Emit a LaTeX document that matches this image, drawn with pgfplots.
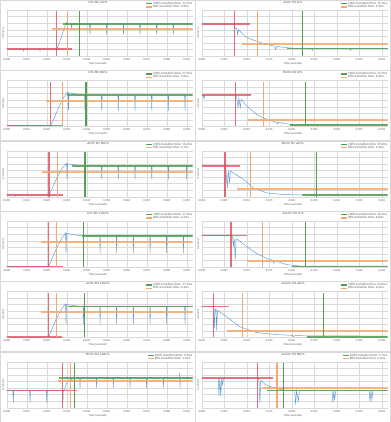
\documentclass[border=0pt]{standalone}
\usepackage{fontspec}
\setmainfont{Carlito}
\usepackage{pgfplots}
\pgfplotsset{compat=1.18}
\definecolor{blu}{RGB}{91,155,213}
\definecolor{rd}{RGB}{228,72,88}
\definecolor{org}{RGB}{244,170,110}
\definecolor{grn}{RGB}{84,158,84}
\definecolor{gridgray}{RGB}{217,217,217}
\definecolor{textgray}{RGB}{89,89,89}
\pgfplotsset{
  pnl/.style={scale only axis, width=372pt, height=92pt, anchor=south west,
    ymin=0, ymax=7, ytick={0,1,2,3,4,5,6,7}, yticklabels={},
    scaled x ticks=false, scaled y ticks=false,
    xmajorgrids, ymajorgrids, grid style={line width=0.4pt, draw=gridgray},
    axis line style={draw=none}, major tick length=0pt, tick style={draw=none},
    xticklabel style={font=\fontsize{5.8}{6.5}\selectfont, text=textgray, anchor=center, yshift=-7pt},
    xlabel={Time (seconds)}, ylabel={Luminance},
    xlabel style={font=\fontsize{6}{7}\selectfont, text=textgray, at={(axis description cs:0.49,0)}, anchor=center, yshift=-15pt},
    ylabel style={font=\fontsize{5}{6}\selectfont, text=textgray, at={(axis description cs:-0.02,0.5)}, anchor=center},
    title style={font=\fontsize{9}{10}\selectfont, text=textgray, at={(axis description cs:0.49,1)}, anchor=center, yshift=10pt},
    legend style={at={(axis description cs:1.0,1)}, anchor=south east, yshift=2pt, draw=none, fill=none,
      font=\fontsize{6.5}{7}\selectfont, text=textgray, row sep=-1.5pt, inner sep=0pt, nodes={inner sep=1pt}},
    legend cell align=left,
    legend image code/.code={\draw[#1] (0pt,0pt) -- (12pt,0pt);},
  },
  leftp/.style={xmin=0, xmax=0.093, xtick={0,0.01,0.02,0.03,0.04,0.05,0.06,0.07,0.08,0.09},
    xticklabels={0.000,0.010,0.020,0.030,0.040,0.050,0.060,0.070,0.080,0.090}},
  rightp/.style={xmin=0, xmax=0.04133, xtick={0,0.005,0.01,0.015,0.02,0.025,0.03,0.035,0.04},
    xticklabels={0.000,0.005,0.010,0.015,0.020,0.025,0.030,0.035,0.040}},
  blueline/.style={blu, line width=0.9pt, mark=none, forget plot},
  redv/.style={rd, opacity=0.8, line width=2.6pt, mark=none, forget plot},
  redh/.style={rd, opacity=0.75, line width=3.2pt, mark=none, forget plot},
  orv/.style={org, line width=2.6pt, mark=none, forget plot},
  orh/.style={org, opacity=0.85, line width=4pt, mark=none, forget plot},
  grv/.style={grn, line width=2.6pt, mark=none, forget plot},
  grh/.style={grn, opacity=0.85, line width=3.4pt, mark=none, forget plot},
}
\newcommand{\legs}[2]{%
  \addlegendimage{grn, line width=2.5pt}\addlegendentry{100\% transition time: #1}
  \addlegendimage{org, line width=2.5pt}\addlegendentry{80\% transition time: #2}}
\begin{document}
\begin{tikzpicture}
\useasboundingbox (0pt,0pt) rectangle (780pt,-844pt);
% ---------- Row 1 ----------
\begin{axis}[pnl, leftp, at={(13.4pt,-112pt)}, title={0\% to 20\%}]
\legs{11.5ms}{5.8ms}
\addplot[blueline] coordinates {(0,1.1)(0.00816,1.1)(0.00837,0.8)(0.00858,1.1)(0.01643,1.1)(0.01664,0.8)(0.01684,1.1)(0.0248,1.1)(0.02501,0.85)(0.02532,1.2)(0.02738,2.9)(0.02893,4.4)(0.02976,5.0)(0.03017,5.2)(0.03079,4.95)(0.03224,4.85)(0.03245,4.2)(0.03265,4.85)(0.04144,4.85)(0.04164,3.3)(0.04185,4.85)(0.04981,4.85)(0.05001,3.3)(0.05022,4.85)(0.05818,4.85)(0.05838,3.3)(0.05859,4.85)(0.06644,4.85)(0.06665,3.3)(0.06686,4.85)(0.07481,4.85)(0.07502,3.3)(0.07523,4.85)(0.08308,4.85)(0.08329,3.3)(0.08349,4.85)(0.093,4.85)};
\addplot[redv] coordinates {(0.02501,0)(0.02501,6.8)};
\addplot[redh] coordinates {(0,1.1)(0.03255,1.1)};
\addplot[orv] coordinates {(0.03048,0)(0.03048,6.8)};
\addplot[orh] coordinates {(0.02253,4.1)(0.093,4.1)};
\addplot[grv] coordinates {(0.03637,0)(0.03637,6.8)};
\addplot[grh] coordinates {(0.02831,4.85)(0.093,4.85)};
\end{axis}
\begin{axis}[pnl, rightp, at={(403.4pt,-112pt)}, title={20\% to 0\%}]
\legs{15.1ms}{5.2ms}
\addplot[blueline] coordinates {(0,4.85)(0.00723,4.85)(0.00744,4.25)(0.00775,4.2)(0.00796,3.3)(0.00816,4.0)(0.00961,3.0)(0.01116,2.5)(0.01261,2.15)(0.01447,1.75)(0.01622,1.5)(0.01643,1.0)(0.01664,1.45)(0.01922,1.25)(0.02118,1.15)(0.02439,1.15)(0.02459,0.85)(0.0248,1.15)(0.03286,1.15)(0.03307,0.85)(0.03327,1.15)(0.04133,1.15)};
\addplot[redv] coordinates {(0.00726,0)(0.00726,6.8)};
\addplot[redh] coordinates {(0,4.85)(0.01075,4.85)};
\addplot[orv] coordinates {(0.01244,0)(0.01244,6.8)};
\addplot[orh] coordinates {(0.00889,1.85)(0.04133,1.85)};
\addplot[grv] coordinates {(0.02242,0)(0.02242,6.8)};
\addplot[grh] coordinates {(0.01891,1.15)(0.04133,1.15)};
\end{axis}
% ---------- Row 2 ----------
\begin{axis}[pnl, leftp, at={(13.4pt,-252.667pt)}, title={0\% to 80\%}]
\legs{17.5ms}{5.6ms}
\addplot[blueline] coordinates {(0,0.1)(0.0218,0.1)(0.02222,0.2)(0.02583,2.8)(0.02842,4.4)(0.02997,5.0)(0.03038,5.2)(0.03069,5.1)(0.0309,2.4)(0.0311,5.1)(0.0341,4.95)(0.0372,4.8)(0.03896,4.77)(0.03916,2.4)(0.03936,4.77)(0.04733,4.77)(0.04753,2.4)(0.04773,4.77)(0.0556,4.77)(0.0558,2.4)(0.056,4.77)(0.06397,4.77)(0.06417,2.4)(0.06437,4.77)(0.07234,4.77)(0.07254,2.4)(0.07274,4.77)(0.08061,4.77)(0.08081,2.4)(0.08101,4.77)(0.08898,4.77)(0.08918,2.4)(0.08938,4.77)(0.093,4.77)};
\addplot[redv] coordinates {(0.02201,0)(0.02201,6.8)};
\addplot[redh] coordinates {(0,0.1)(0.02831,0.1)};
\addplot[orv] coordinates {(0.0278,0)(0.0278,6.8)};
\addplot[orh] coordinates {(0.01963,3.78)(0.093,3.78)};
\addplot[grv] coordinates {(0.03968,0)(0.03968,6.8)};
\addplot[grh] coordinates {(0.02997,4.77)(0.093,4.77)};
\end{axis}
\begin{axis}[pnl, rightp, at={(403.4pt,-252.667pt)}, title={80\% to 0\%}]
\legs{15.5ms}{6.2ms}
\addplot[blueline] coordinates {(0,4.77)(0.00031,4.77)(0.00052,4.2)(0.00072,4.77)(0.00744,4.77)(0.00775,4.4)(0.00806,2.85)(0.00827,4.3)(0.00858,2.85)(0.00878,4.1)(0.01002,3.1)(0.01219,1.8)(0.01447,1.04)(0.01664,0.62)(0.01684,0.35)(0.01705,0.6)(0.01963,0.3)(0.0218,0.25)(0.04133,0.25)};
\addplot[redv] coordinates {(0.00754,0)(0.00754,6.8)};
\addplot[redh] coordinates {(0,4.77)(0.01085,4.77)};
\addplot[orv] coordinates {(0.0137,0)(0.0137,6.8)};
\addplot[orh] coordinates {(0.01033,1.04)(0.04133,1.04)};
\addplot[grv] coordinates {(0.02304,0)(0.02304,6.8)};
\addplot[grh] coordinates {(0.01963,0.16)(0.04133,0.16)};
\end{axis}
% ---------- Row 3 ----------
\begin{axis}[pnl, leftp, at={(13.4pt,-393.333pt)}, title={20\% to 80\%}]
\legs{16.4ms}{4.7ms}
\addplot[blueline] coordinates {(0,0.26)(0.00413,0.26)(0.00434,0.1)(0.00455,0.26)(0.0124,0.26)(0.01261,0.1)(0.01281,0.26)(0.02098,0.26)(0.02139,0.35)(0.02501,2.8)(0.0279,4.4)(0.02955,4.95)(0.02997,5.08)(0.03017,2.65)(0.03038,5.0)(0.0341,4.85)(0.0372,4.72)(0.03896,4.7)(0.03916,2.65)(0.03936,4.7)(0.04733,4.7)(0.04753,2.65)(0.04773,4.7)(0.0556,4.7)(0.0558,2.65)(0.056,4.7)(0.06397,4.7)(0.06417,2.65)(0.06437,4.7)(0.07234,4.7)(0.07254,2.65)(0.07274,4.7)(0.08061,4.7)(0.08081,2.65)(0.08101,4.7)(0.0898,4.7)(0.09,2.65)(0.0902,4.7)(0.093,4.7)};
\addplot[redv] coordinates {(0.02118,0)(0.02118,6.8)};
\addplot[redh] coordinates {(0,0.26)(0.02831,0.26)};
\addplot[orv] coordinates {(0.02552,0)(0.02552,6.8)};
\addplot[orh] coordinates {(0.01746,3.78)(0.093,3.78)};
\addplot[grv] coordinates {(0.03916,0)(0.03916,6.8)};
\addplot[grh] coordinates {(0.03245,4.7)(0.093,4.7)};
\end{axis}
\begin{axis}[pnl, rightp, at={(403.4pt,-393.333pt)}, title={80\% to 20\%}]
\legs{19.3ms}{5.6ms}
\addplot[blueline] coordinates {(0,4.7)(0.00517,4.7)(0.00537,4.2)(0.00568,1.35)(0.00589,4.0)(0.0062,2.1)(0.00641,3.9)(0.00703,3.6)(0.0093,2.64)(0.01147,1.35)(0.01447,0.57)(0.01819,0.31)(0.0217,0.28)(0.02584,0.28)(0.02604,0.15)(0.02624,0.28)(0.03411,0.28)(0.03431,0.15)(0.03451,0.28)(0.03927,0.28)(0.03947,0.15)(0.03967,0.28)(0.04133,0.28)};
\addplot[redv] coordinates {(0.00517,0)(0.00517,6.8)};
\addplot[redh] coordinates {(0,4.7)(0.00851,4.7)};
\addplot[orv] coordinates {(0.01089,0)(0.01089,6.8)};
\addplot[orh] coordinates {(0.00775,1.19)(0.04133,1.19)};
\addplot[grv] coordinates {(0.02552,0)(0.02552,6.8)};
\addplot[grh] coordinates {(0.02222,0.26)(0.04133,0.26)};
\end{axis}
% ---------- Row 4 ----------
\begin{axis}[pnl, leftp, at={(13.4pt,-534pt)}, title={0\% to 100\%}]
\legs{17.6ms}{4.2ms}
\addplot[blueline] coordinates {(0,0.05)(0.02067,0.05)(0.02108,0.15)(0.0248,2.8)(0.02759,4.4)(0.02904,5.0)(0.02945,5.18)(0.02966,2.1)(0.02986,5.1)(0.03307,4.95)(0.03617,4.8)(0.03814,4.77)(0.03834,2.1)(0.03854,4.77)(0.04651,4.77)(0.04671,2.1)(0.04691,4.77)(0.05477,4.77)(0.05497,2.1)(0.05517,4.77)(0.06314,4.77)(0.06334,2.1)(0.06354,4.77)(0.07151,4.77)(0.07171,2.1)(0.07191,4.77)(0.07978,4.77)(0.07998,2.1)(0.08018,4.77)(0.08815,4.77)(0.08835,2.1)(0.08855,4.77)(0.093,4.77)};
\addplot[redv] coordinates {(0.02087,0)(0.02087,6.8)};
\addplot[redh] coordinates {(0,0.08)(0.02831,0.08)};
\addplot[orv] coordinates {(0.02501,0)(0.02501,6.8)};
\addplot[orh] coordinates {(0.017,3.78)(0.093,3.78)};
\addplot[grv] coordinates {(0.03834,0)(0.03834,6.8)};
\addplot[grh] coordinates {(0.03751,4.77)(0.093,4.77)};
\end{axis}
\begin{axis}[pnl, rightp, at={(403.4pt,-534pt)}, title={100\% to 0\%}]
\legs{16.3ms}{6.8ms}
\addplot[blueline] coordinates {(0,4.77)(0.00672,4.77)(0.00692,4.3)(0.00703,3.1)(0.00723,4.3)(0.00744,1.14)(0.00765,4.2)(0.00785,4.25)(0.01002,3.1)(0.01219,2.07)(0.01447,1.3)(0.01591,1.0)(0.01602,0.55)(0.01622,0.95)(0.01891,0.36)(0.0218,0.15)(0.04133,0.15)};
\addplot[redv] coordinates {(0.00651,0)(0.00651,6.8)};
\addplot[redh] coordinates {(0,4.77)(0.01002,4.77)};
\addplot[orv] coordinates {(0.01354,0)(0.01354,6.8)};
\addplot[orh] coordinates {(0.01002,0.93)(0.04133,0.93)};
\addplot[grv] coordinates {(0.02312,0)(0.02312,6.8)};
\addplot[grh] coordinates {(0.02,0.08)(0.04133,0.08)};
\end{axis}
% ---------- Row 5 ----------
\begin{axis}[pnl, leftp, at={(13.4pt,-674.667pt)}, title={20\% to 100\%}]
\legs{17.2ms}{4.4ms}
\addplot[blueline] coordinates {(0,0.05)(0.02067,0.05)(0.02108,0.15)(0.0248,2.8)(0.02759,4.4)(0.02904,4.95)(0.02945,5.08)(0.02966,2.0)(0.02986,5.0)(0.03307,4.85)(0.03617,4.72)(0.03814,4.7)(0.03834,2.0)(0.03854,4.7)(0.04651,4.7)(0.04671,2.0)(0.04691,4.7)(0.05477,4.7)(0.05497,2.0)(0.05517,4.7)(0.06314,4.7)(0.06334,2.0)(0.06354,4.7)(0.07151,4.7)(0.07171,2.0)(0.07191,4.7)(0.07978,4.7)(0.07998,2.0)(0.08018,4.7)(0.08898,4.7)(0.08918,2.0)(0.08938,4.7)(0.093,4.7)};
\addplot[redv] coordinates {(0.02087,0)(0.02087,6.8)};
\addplot[redh] coordinates {(0,0.08)(0.02749,0.08)};
\addplot[orv] coordinates {(0.02501,0)(0.02501,6.8)};
\addplot[orh] coordinates {(0.017,3.83)(0.093,3.83)};
\addplot[grv] coordinates {(0.03885,0)(0.03885,6.8)};
\addplot[grh] coordinates {(0.03079,4.7)(0.093,4.7)};
\end{axis}
\begin{axis}[pnl, rightp, at={(403.4pt,-674.667pt)}, title={100\% to 20\%}]
\legs{24.2ms}{6.2ms}
\addplot[blueline] coordinates {(0,4.7)(0.00258,4.7)(0.00269,4.3)(0.00279,1.35)(0.003,4.3)(0.0032,4.25)(0.00331,1.07)(0.00351,4.1)(0.00548,3.16)(0.00847,1.6)(0.01219,0.73)(0.01664,0.41)(0.02015,0.3)(0.02036,0.1)(0.02056,0.28)(0.02377,0.22)(0.04133,0.2)};
\addplot[redv] coordinates {(0.00258,0)(0.00258,6.8)};
\addplot[redh] coordinates {(0,4.7)(0.00615,4.7)};
\addplot[orv] coordinates {(0.00904,0)(0.00904,6.8)};
\addplot[orh] coordinates {(0.00556,1.04)(0.04133,1.04)};
\addplot[grv] coordinates {(0.02703,0)(0.02703,6.8)};
\addplot[grh] coordinates {(0.02335,0.08)(0.04133,0.08)};
\end{axis}
% ---------- Row 6 ----------
\begin{axis}[pnl, leftp, at={(13.4pt,-815.333pt)}, title={80\% to 100\%}]
\legs{5.9ms}{4.1ms}
\addplot[blueline] coordinates {(0,2.6)(0.00311,2.6)(0.00331,0.75)(0.00351,2.6)(0.01148,2.6)(0.01168,0.75)(0.01188,2.6)(0.01985,2.6)(0.02005,0.75)(0.02025,2.6)(0.02791,2.6)(0.02811,0.75)(0.02831,2.6)(0.02873,2.7)(0.02997,3.75)(0.03162,4.25)(0.03503,4.5)(0.03648,4.55)(0.03668,3.0)(0.03688,4.6)(0.04475,4.6)(0.04495,3.0)(0.04515,4.6)(0.05312,4.6)(0.05332,3.0)(0.05352,4.6)(0.06149,4.6)(0.06169,3.0)(0.06189,4.6)(0.06976,4.6)(0.06996,3.0)(0.07016,4.6)(0.07813,4.6)(0.07833,3.0)(0.07853,4.6)(0.08639,4.6)(0.08649,5.3)(0.08669,3.0)(0.08689,4.6)(0.093,4.6)};
\addplot[redv] coordinates {(0.028,0)(0.028,6.8)};
\addplot[redh] coordinates {(0,2.6)(0.03503,2.6)};
\addplot[orv] coordinates {(0.03183,0)(0.03183,6.8)};
\addplot[orh] coordinates {(0.02583,4.1)(0.093,4.1)};
\addplot[grv] coordinates {(0.03379,0)(0.03379,6.8)};
\addplot[grh] coordinates {(0.02635,4.55)(0.093,4.55)};
\end{axis}
\begin{axis}[pnl, rightp, at={(403.4pt,-815.333pt)}, title={100\% to 80\%}]
\legs{5.7ms}{4.3ms}
\addplot[blueline] coordinates {(0,4.5)(0.00372,4.5)(0.00382,1.75)(0.00403,4.5)(0.00424,1.75)(0.00444,4.5)(0.00465,3.5)(0.00486,4.5)(0.0124,4.5)(0.01271,4.3)(0.01292,0.75)(0.01312,4.2)(0.01323,4.1)(0.01416,3.5)(0.0156,3.1)(0.01777,2.75)(0.01963,2.6)(0.02067,2.6)(0.02087,0.5)(0.02108,2.6)(0.02149,1.0)(0.0217,2.6)(0.02893,2.6)(0.02914,0.75)(0.02935,2.6)(0.02955,1.1)(0.02976,2.6)(0.0372,2.6)(0.03741,0.9)(0.03761,2.6)(0.03782,1.2)(0.03803,2.6)(0.04133,2.6)};
\addplot[redv] coordinates {(0.01244,0)(0.01244,6.8)};
\addplot[redh] coordinates {(0,4.5)(0.01591,4.5)};
\addplot[orv] coordinates {(0.01674,0)(0.01674,6.8)};
\addplot[orh] coordinates {(0.01333,3.0)(0.04133,3.0)};
\addplot[grv] coordinates {(0.01815,0)(0.01815,6.8)};
\addplot[grh] coordinates {(0.01447,2.6)(0.04133,2.6)};
\end{axis}
% panel frames
\foreach \c in {0,1}{\foreach \r in {0,...,5}{
  \draw[gray!30, line width=0.8pt] ({\c*390pt+0.5pt},{-\r*140.667pt-0.5pt}) rectangle ({\c*390pt+389.5pt},{-\r*140.667pt-140.167pt});
}}
\end{tikzpicture}
\end{document}
